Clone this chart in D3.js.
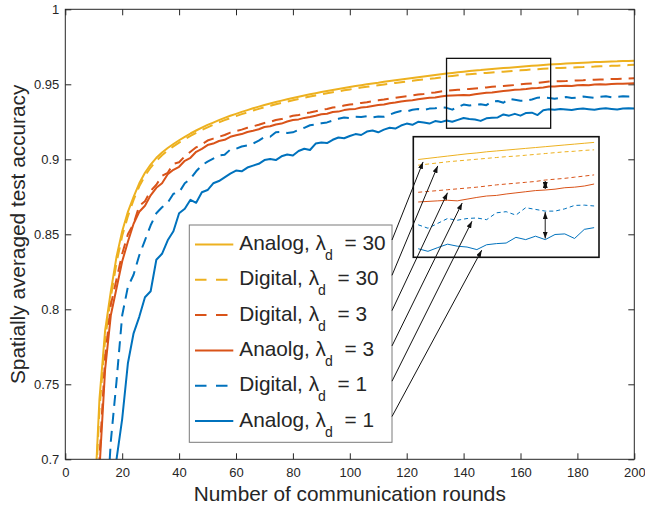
<!DOCTYPE html>
<html>
<head>
<meta charset="utf-8">
<script src="https://cdn.jsdelivr.net/npm/d3@7"></script>
<style>
  body { margin: 0; background: #fff; }
  svg text { font-family: "Liberation Sans", Arial, Helvetica, sans-serif; fill: #262626; white-space: pre; }
</style>
</head>
<body>
<div id="chart"></div>
<script>
// communication rounds (x) and accuracy
var rounds = [10,12,14,16,18,20,22,24,26,28,30,32,34,36,38,40,42,44,46,48,
    50,52,54,56,58,60,62,64,66,68,70,72,74,76,78,80,82,84,86,88,
    90,92,94,96,98,100,102,104,106,108,110,112,114,116,118,120,122,124,126,128,
    130,132,134,136,138,140,142,144,146,148,150,152,154,156,158,160,162,164,166,168,
    170,172,174,176,178,180,182,184,186,188,190,192,194,196,198,200];

var accAnalog30 = [0.660,0.740,0.786,0.812,0.835,0.852,0.865,0.875,0.884,0.891,
    0.8965,0.9010,0.9045,0.9075,0.9102,0.9127,0.9150,0.9172,0.9192,0.9211,
    0.9229,0.9245,0.9261,0.9276,0.9290,0.9303,0.9316,0.9328,0.9340,0.9351,
    0.9362,0.9372,0.9382,0.9391,0.9400,0.9409,0.9417,0.9425,0.9433,0.9441,
    0.9448,0.9455,0.9462,0.9469,0.9476,0.9482,0.9488,0.9494,0.9500,0.9506,
    0.9511,0.9517,0.9522,0.9527,0.9532,0.9537,0.9542,0.9547,0.9552,0.9557,
    0.9562,0.9567,0.9572,0.9576,0.9580,0.9584,0.9588,0.9592,0.9595,0.9599,
    0.9602,0.9605,0.9608,0.9611,0.9614,0.9617,0.9620,0.9623,0.9626,0.9629,
    0.9632,0.9634,0.9636,0.9638,0.9640,0.9642,0.9644,0.9646,0.9648,0.9649,
    0.9651,0.9652,0.9653,0.9655,0.9656,0.9657];

var accDigital30 = [0.655,0.733,0.780,0.808,0.831,0.849,0.862,0.873,0.882,0.889,
    0.8945,0.8990,0.9027,0.9058,0.9086,0.9111,0.9134,0.9156,0.9176,0.9195,
    0.9213,0.9230,0.9246,0.9261,0.9275,0.9288,0.9301,0.9313,0.9325,0.9336,
    0.9347,0.9357,0.9367,0.9376,0.9385,0.9394,0.9402,0.9410,0.9418,0.9426,
    0.9433,0.9440,0.9447,0.9453,0.9460,0.9466,0.9472,0.9478,0.9483,0.9489,
    0.9494,0.9499,0.9504,0.9509,0.9514,0.9518,0.9523,0.9528,0.9532,0.9537,
    0.9541,0.9546,0.9552,0.9556,0.9560,0.9564,0.9567,0.9570,0.9573,0.9576,
    0.9579,0.9582,0.9584,0.9587,0.9590,0.9593,0.9596,0.9599,0.9601,0.9604,
    0.9606,0.9608,0.9609,0.9611,0.9612,0.9614,0.9615,0.9617,0.9618,0.9620,
    0.9621,0.9623,0.9624,0.9626,0.9628,0.9630];

var accDigital3 = [0.610,0.700,0.768,0.803,0.820,0.837,0.850,0.857,0.869,0.872,
    0.879,0.883,0.889,0.891,0.897,0.898,0.902,0.905,0.908,0.910,
    0.9125,0.9138,0.9150,0.9162,0.9178,0.9188,0.9198,0.9210,0.9220,0.9230,
    0.9242,0.9250,0.9262,0.9268,0.9280,0.9290,0.9295,0.9305,0.9312,0.9320,
    0.9330,0.9335,0.9345,0.9350,0.9358,0.9365,0.9368,0.9376,0.9380,0.9388,
    0.9393,0.9398,0.9405,0.9410,0.9416,0.9420,0.9426,0.9432,0.9436,0.9442,
    0.9446,0.9452,0.9457,0.9460,0.9463,0.9466,0.9469,0.9472,0.9475,0.9479,
    0.9483,0.9486,0.9489,0.9492,0.9495,0.9500,0.9503,0.9506,0.9510,0.9514,
    0.9518,0.9519,0.9521,0.9522,0.9524,0.9526,0.9527,0.9529,0.9530,0.9532,
    0.9533,0.9535,0.9536,0.9537,0.9539,0.9540];

var accAnalog3 = [0.600,0.693,0.760,0.796,0.814,0.832,0.845,0.857,0.865,0.869,
    0.876,0.881,0.884,0.890,0.893,0.895,0.899,0.901,0.905,0.907,
    0.9095,0.9105,0.9122,0.9130,0.9150,0.9160,0.9168,0.9182,0.9190,0.9200,
    0.9215,0.9220,0.9232,0.9238,0.9252,0.9262,0.9266,0.9276,0.9282,0.9290,
    0.9300,0.9304,0.9315,0.9318,0.9328,0.9333,0.9336,0.9345,0.9348,0.9356,
    0.9362,0.9365,0.9373,0.9378,0.9386,0.9390,0.9394,0.9400,0.9405,0.9410,
    0.9412,0.9418,0.9423,0.9425,0.9427,0.9429,0.9427,0.9433,0.9439,0.9444,
    0.9446,0.9451,0.9455,0.9459,0.9463,0.9465,0.9468,0.9473,0.9475,0.9479,
    0.9486,0.9485,0.9488,0.9490,0.9489,0.9493,0.9495,0.9494,0.9498,0.9500,
    0.9499,0.9502,0.9504,0.9503,0.9506,0.9507];

var accDigital1 = [0.520,0.580,0.650,0.712,0.752,0.796,0.815,0.823,0.836,0.846,
    0.856,0.864,0.868,0.871,0.877,0.878,0.884,0.887,0.892,0.896,
    0.8985,0.9005,0.9025,0.9030,0.9065,0.9070,0.9085,0.9092,0.9105,0.9125,
    0.9148,0.9150,0.9180,0.9182,0.9176,0.9180,0.9196,0.9210,0.9227,0.9232,
    0.9240,0.9246,0.9258,0.9270,0.9278,0.9275,0.9283,0.9282,0.9288,0.9280,
    0.9285,0.9284,0.9298,0.9312,0.9322,0.9318,0.9330,0.9335,0.9328,0.9338,
    0.9340,0.9348,0.9343,0.9331,0.9348,0.9365,0.9359,0.9365,0.9367,0.9361,
    0.9385,0.9389,0.9377,0.9403,0.9397,0.9391,0.9391,0.9399,0.9411,0.9412,
    0.9409,0.9404,0.9410,0.9415,0.9408,0.9412,0.9418,0.9414,0.9410,0.9416,
    0.9420,0.9414,0.9417,0.9421,0.9418,0.9420];

var accAnalog1 = [0.540,0.580,0.620,0.660,0.700,0.727,0.764,0.784,0.795,0.808,
    0.812,0.833,0.837,0.846,0.852,0.864,0.867,0.873,0.871,0.878,
    0.8795,0.8840,0.8855,0.8880,0.8905,0.8925,0.8920,0.8945,0.8958,0.8970,
    0.8995,0.9002,0.8995,0.9020,0.9032,0.9025,0.9055,0.9070,0.9062,0.9105,
    0.9112,0.9108,0.9130,0.9145,0.9140,0.9155,0.9168,0.9162,0.9185,0.9192,
    0.9180,0.9198,0.9210,0.9205,0.9225,0.9238,0.9230,0.9250,0.9245,0.9238,
    0.9255,0.9248,0.9259,0.9250,0.9263,0.9275,0.9268,0.9265,0.9256,0.9273,
    0.9277,0.9279,0.9299,0.9291,0.9303,0.9291,0.9309,0.9311,0.9295,0.9327,
    0.9333,0.9330,0.9336,0.9332,0.9328,0.9335,0.9338,0.9334,0.9330,0.9337,
    0.9340,0.9336,0.9332,0.9338,0.9341,0.9339];

var xTicks = [0,20,40,60,80,100,120,140,160,180,200];
var yTicks = [0.7,0.75,0.8,0.85,0.9,0.95,1];

var legendSchemes = ["Analog","Digital","Digital","Anaolg","Digital","Analog"];
var legendLambdas = ["30","30","3","3","1","1"];

// zoomed window: box on main axes, and the range shown in the inset
var zoomRounds = [134, 170.6];
var zoomAcc = [0.9207, 0.9673];
var insetRounds = [133, 171];
var insetAcc = [0.9229, 0.9652];
var pointerRounds = [135, 138, 140, 143, 145, 147];
var gapRound = 160;

var seriesValues = [accAnalog30, accDigital30, accDigital3, accAnalog3, accDigital1, accAnalog1];
var colors = ["#EDB120","#EDB120","#D95319","#D95319","#0072BD","#0072BD"];
var dashed = [false, true, true, false, true, false];

var margin = { top: 9.3, right: 10.7, bottom: 45.7, left: 65.3 },
    width = 645 - margin.left - margin.right,
    height = 505 - margin.top - margin.bottom;

var svg = d3.select("#chart")
    .append("svg")
    .attr("width", 645)
    .attr("height", 505);

var defs = svg.append("defs");
defs.append("clipPath").attr("id", "plotClip")
    .append("rect").attr("width", width).attr("height", height);

defs.append("marker")
    .attr("id", "head")
    .attr("viewBox", "0 0 10 10")
    .attr("refX", 10).attr("refY", 5)
    .attr("markerUnits", "userSpaceOnUse")
    .attr("markerWidth", 7).attr("markerHeight", 5)
    .attr("preserveAspectRatio", "none")
    .attr("orient", "auto-start-reverse")
    .append("path").attr("d", "M0,0L10,5L0,10Z").attr("fill", "#111");

var g = svg.append("g")
    .attr("transform", "translate(" + margin.left + "," + margin.top + ")");

var x = d3.scaleLinear().domain([0, 200]).range([0, width]);
var y = d3.scaleLinear().domain([0.7, 1]).range([height, 0]);

function styleAxis(sel) {
    sel.attr("color", "#262626");
    sel.select(".domain").remove();
    sel.selectAll("text").attr("font-size", "13px")
        .attr("font-family", "'Liberation Sans', Arial, sans-serif");
}

g.append("g")
    .attr("transform", "translate(0," + height + ")")
    .call(d3.axisBottom(x).tickValues(xTicks).tickSize(-6).tickPadding(8.6))
    .call(styleAxis);
g.append("g")
    .call(d3.axisLeft(y).tickValues(yTicks).tickSize(-6).tickPadding(6)
        .tickFormat(function (d) { return String(d); }))
    .call(styleAxis);
g.append("g")
    .call(d3.axisTop(x).tickValues(xTicks).tickSize(-6).tickFormat(""))
    .call(styleAxis);
g.append("g")
    .attr("transform", "translate(" + width + ",0)")
    .call(d3.axisRight(y).tickValues(yTicks).tickSize(-6).tickFormat(""))
    .call(styleAxis);

// curves
var mainLine = d3.line()
    .x(function (d, i) { return x(rounds[i]); })
    .y(function (d) { return y(d); });

g.append("g")
    .attr("clip-path", "url(#plotClip)")
    .selectAll("path")
    .data(seriesValues)
    .enter()
    .append("path")
    .attr("fill", "none")
    .attr("stroke", function (d, i) { return colors[i]; })
    .attr("stroke-width", 2)
    .attr("stroke-linejoin", "round")
    .attr("stroke-dasharray", function (d, i) { return dashed[i] ? "11,7" : null; })
    .attr("d", mainLine);

g.append("rect")
    .attr("x", 0).attr("y", 0)
    .attr("width", width).attr("height", height)
    .attr("fill", "none")
    .attr("stroke", "#262626")
    .attr("stroke-width", 1);

// zoom box on the main axes
g.append("rect")
    .attr("x", x(zoomRounds[0]))
    .attr("y", y(zoomAcc[1]))
    .attr("width", x(zoomRounds[1]) - x(zoomRounds[0]))
    .attr("height", y(zoomAcc[0]) - y(zoomAcc[1]))
    .attr("fill", "none")
    .attr("stroke", "#111")
    .attr("stroke-width", 1.3);

// axis labels
svg.append("text")
    .attr("x", margin.left + width / 2)
    .attr("y", 501)
    .attr("text-anchor", "middle")
    .attr("font-size", "20.8px")
    .text("Number of communication rounds");
svg.append("text")
    .attr("transform", "translate(25," + (margin.top + height / 2) + ") rotate(-90)")
    .attr("text-anchor", "middle")
    .attr("font-size", "20.8px")
    .text("Spatially averaged test accuracy");

// legend
var legX = 189.3, legY = 225, legW = 202.7, legH = 217.3;
var rowBase = d3.scaleLinear().domain([0, 5]).range([250, 426.5]);

svg.append("rect")
    .attr("x", legX).attr("y", legY)
    .attr("width", legW).attr("height", legH)
    .attr("fill", "#fff")
    .attr("stroke", "#7a7a7a")
    .attr("stroke-width", 1);

svg.selectAll("legline")
    .data(legendSchemes)
    .enter()
    .append("line")
    .attr("x1", 195).attr("x2", 233.3)
    .attr("y1", function (d, i) { return rowBase(i) - 5.5; })
    .attr("y2", function (d, i) { return rowBase(i) - 5.5; })
    .attr("stroke", function (d, i) { return colors[i]; })
    .attr("stroke-width", 2)
    .attr("stroke-dasharray", function (d, i) { return dashed[i] ? "11.5,9.5" : null; });

var legText = svg.selectAll("legtext")
    .data(legendSchemes)
    .enter()
    .append("text")
    .attr("x", 239.3)
    .attr("y", function (d, i) { return rowBase(i); })
    .attr("font-size", "20.8px")
    .text(function (d) { return d + ", \u03bb"; });
legText.append("tspan")
    .attr("dx", -1).attr("dy", 10)
    .attr("font-size", "14px")
    .text("d");
legText.append("tspan")
    .attr("dx", 6).attr("dy", -10)
    .text(function (d, i) { return " = " + legendLambdas[i]; });

// inset
var insX = 413.3, insY = 136.7, insW = 185.7, insH = 120.6;
var ix = d3.scaleLinear().domain(insetRounds).range([0, insW]);
var iy = d3.scaleLinear().domain(insetAcc).range([insH, 0]);

var inset = svg.append("g")
    .attr("transform", "translate(" + insX + "," + insY + ")");
defs.append("clipPath").attr("id", "insetClip")
    .append("rect").attr("width", insW).attr("height", insH);

inset.append("rect")
    .attr("width", insW).attr("height", insH)
    .attr("fill", "#fff");

var insetIdx = rounds.map(function (r, i) { return i; })
    .filter(function (i) { return rounds[i] >= 134 && rounds[i] <= 170; });

var insetLine = d3.line()
    .x(function (i) { return ix(rounds[i]); });

inset.append("g")
    .attr("clip-path", "url(#insetClip)")
    .selectAll("path")
    .data(seriesValues)
    .enter()
    .append("path")
    .attr("fill", "none")
    .attr("stroke", function (d, i) { return colors[i]; })
    .attr("stroke-width", 1)
    .attr("stroke-dasharray", function (d, i) { return dashed[i] ? "4,3" : null; })
    .attr("d", function (vals) {
        return insetLine.y(function (i) { return iy(vals[i]); })(insetIdx);
    });

function valueAt(vals, r) {
    var j = d3.bisectLeft(rounds, r);
    if (rounds[j] === r) return vals[j];
    var t = (r - rounds[j - 1]) / (rounds[j] - rounds[j - 1]);
    return vals[j - 1] + t * (vals[j] - vals[j - 1]);
}

// gap arrows (digital vs analog) inside the inset
var gi = rounds.indexOf(gapRound);
[[accDigital3, accAnalog3], [accDigital1, accAnalog1]].forEach(function (pair) {
    inset.append("line")
        .attr("x1", ix(gapRound)).attr("x2", ix(gapRound))
        .attr("y1", iy(pair[0][gi]) + 1)
        .attr("y2", iy(pair[1][gi]) - 1)
        .attr("stroke", "#444")
        .attr("stroke-width", 1.2)
        .attr("marker-start", "url(#head)")
        .attr("marker-end", "url(#head)");
});

inset.append("rect")
    .attr("width", insW).attr("height", insH)
    .attr("fill", "none")
    .attr("stroke", "#111")
    .attr("stroke-width", 1.6);

// pointers from legend entries to inset curves
svg.selectAll("pointer")
    .data(seriesValues)
    .enter()
    .append("line")
    .attr("x1", legX + legW)
    .attr("y1", function (d, i) { return rowBase(i) - 10; })
    .attr("x2", function (d, i) { return insX + ix(pointerRounds[i]); })
    .attr("y2", function (d, i) { return insY + iy(valueAt(d, pointerRounds[i])) + 3; })
    .attr("stroke", "#111")
    .attr("stroke-width", 1)
    .attr("marker-end", "url(#head)");
</script>
</body>
</html>
